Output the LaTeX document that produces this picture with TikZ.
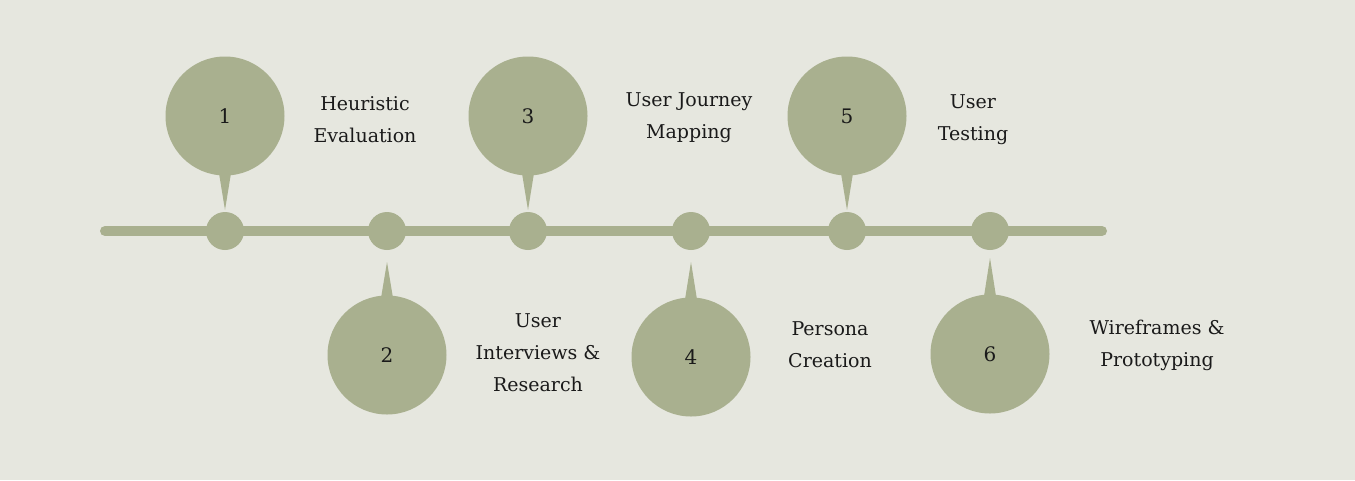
\documentclass[tikz,border=0pt]{standalone}
\usepackage{fontspec}
\setmainfont{DejaVu Serif}
\usetikzlibrary{calc}
\definecolor{bg}{HTML}{E6E7DF}
\definecolor{sage}{HTML}{A9B08F}
\definecolor{ink}{HTML}{1A1A1A}
\begin{document}
\begin{tikzpicture}[x=1pt,y=-1pt,
  dot/.style={circle,fill=sage,minimum size=38pt,inner sep=0pt},
  bigc/.style={circle,fill=sage,minimum size=119pt,inner sep=0pt,font=\fontsize{20}{20}\selectfont,text=ink},
  lbl/.style={align=center,font=\fontsize{19}{32}\selectfont,text=ink}]
\fill[bg] (0,0) rectangle (1355,480);
\useasboundingbox (0,0) rectangle (1355,480);
\coordinate (ls) at (105,231); \coordinate (le) at (1102,231);
\draw[sage,line width=10pt,line cap=round] (ls) -- (le);
\foreach \n/\x/\cy/\ty in {1/225/116/210,2/387/355/262,3/528/116/210,4/691/357/262,5/847/116/210,6/990/354/258}{
  \node[dot] (d\n) at (\x,231) {};
  \coordinate (t\n) at (\x,\ty);
  \node[bigc] (c\n) at (\x,\cy) {\n};
  \pgfmathsetmacro{\sg}{\cy<231 ? 1 : -1}
  \fill[sage] (t\n) -- ($(c\n)+(-8,\sg*45)$) -- ($(c\n)+(8,\sg*45)$) -- cycle;
}
\node[lbl] (l1) at (365,120) {Heuristic\\Evaluation};
\node[lbl] (l3) at (689,118) {User Journey\\Mapping};
\node[lbl] (l5) at (973,120) {User\\Testing};
\node[lbl] (l2) at (538,353) {User\\Interviews \&\\Research};
\node[lbl] (l4) at (830,345) {Persona\\Creation};
\node[lbl] (l6) at (1157,345) {Wireframes \&\\Prototyping};
\end{tikzpicture}
\end{document}
